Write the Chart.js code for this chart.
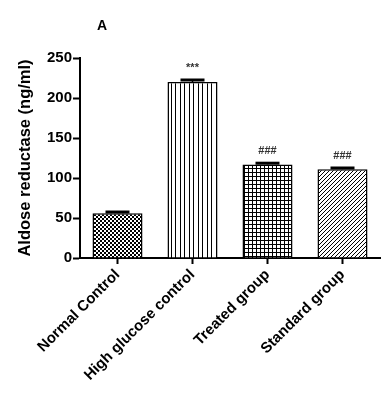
<!DOCTYPE html>
<html>
<head>
<meta charset="utf-8">
<script src="https://cdn.jsdelivr.net/npm/chart.js@4.4.0/dist/chart.umd.min.js"></script>
<style>
  body { margin: 0; background: #fff; }
</style>
</head>
<body>
<canvas id="grafico" width="390" height="399"></canvas>
<script>
const categorias = ['Normal Control', 'High glucose control', 'Treated group', 'Standard group'];
const medias = [56, 220, 117, 111];
const erros = [1.5, 2.5, 1.5, 1.5];
const marcas = ['', '***', '###', '###'];
const yMin = 0;
const yMax = 250;
const yPasso = 50;

// padroes de preenchimento das barras
function padrao(tipo) {
  const c = document.createElement('canvas');
  const g = c.getContext('2d');
  if (tipo == 'xadrez') {
    c.width = 4; c.height = 4;
    g.fillStyle = '#fff'; g.fillRect(0, 0, 4, 4);
    g.fillStyle = '#000'; g.fillRect(0, 0, 2, 2); g.fillRect(2, 2, 2, 2);
  } else if (tipo == 'vertical') {
    c.width = 9; c.height = 4;
    g.fillStyle = '#fff'; g.fillRect(0, 0, 9, 4);
    g.fillStyle = '#000'; g.fillRect(0, 0, 1, 4); g.fillRect(4, 0, 1, 4);
  } else if (tipo == 'grade') {
    c.width = 4; c.height = 4;
    g.fillStyle = '#fff'; g.fillRect(0, 0, 4, 4);
    g.fillStyle = '#000'; g.fillRect(0, 0, 1, 4); g.fillRect(0, 0, 4, 1);
  } else {
    c.width = 4; c.height = 4;
    g.fillStyle = '#fff'; g.fillRect(0, 0, 4, 4);
    g.fillStyle = '#000';
    for (let i = 0; i < 4; i++) g.fillRect(3 - i, i, 1, 1);
  }
  const ctx = document.getElementById('grafico').getContext('2d');
  return ctx.createPattern(c, 'repeat');
}

const preenchimentos = [padrao('xadrez'), padrao('vertical'), padrao('grade'), padrao('diagonal')];

const errosPlugin = {
  id: 'erros',
  afterDatasetsDraw(chart) {
    const ctx = chart.ctx;
    const y = chart.scales.y;
    const meta = chart.getDatasetMeta(0);
    ctx.save();
    for (let i = 0; i < medias.length; i++) {
      const x = meta.data[i].x;
      const yBarra = y.getPixelForValue(medias[i]);
      const yTopo = y.getPixelForValue(medias[i] + erros[i]);
      ctx.strokeStyle = '#000';
      ctx.lineWidth = 1.5;
      ctx.beginPath();
      ctx.moveTo(x, yBarra);
      ctx.lineTo(x, yTopo);
      ctx.stroke();
      ctx.lineWidth = 3;
      ctx.beginPath();
      ctx.moveTo(x - 12, yTopo);
      ctx.lineTo(x + 12, yTopo);
      ctx.stroke();
      if (marcas[i]) {
        ctx.fillStyle = '#333';
        ctx.font = 'bold 11px "Liberation Sans", Arial, sans-serif';
        ctx.textAlign = 'center';
        ctx.textBaseline = 'bottom';
        ctx.fillText(marcas[i], x, yTopo - 7);
      }
    }
    // letra do painel
    ctx.fillStyle = '#000';
    ctx.font = 'bold 14px "Liberation Sans", Arial, sans-serif';
    ctx.textAlign = 'left';
    ctx.textBaseline = 'alphabetic';
    ctx.fillText('A', chart.chartArea.left + 17, 30);
    ctx.restore();
  }
};

const fonteEixo = { family: '"Liberation Sans", Arial, sans-serif', size: 15, weight: 'bold' };

new Chart(document.getElementById('grafico'), {
  type: 'bar',
  data: {
    labels: categorias,
    datasets: [{
      data: medias,
      backgroundColor: preenchimentos,
      borderColor: '#000',
      borderWidth: 1.5,
      barPercentage: 0.667,
      categoryPercentage: 1
    }]
  },
  options: {
    responsive: false,
    animation: false,
    layout: { padding: { top: 58, right: 10, left: 0, bottom: 0 } },
    plugins: {
      legend: { display: false },
      tooltip: { enabled: false }
    },
    scales: {
      x: {
        grid: { offset: false, drawOnChartArea: false, drawTicks: true, tickLength: 6, tickColor: '#000', tickWidth: 2 },
        border: { color: '#000', width: 2 },
        ticks: { color: '#000', font: fonteEixo, minRotation: 45, maxRotation: 45, padding: 2 },
        afterFit(scale) { scale.height = 141; }
      },
      y: {
        min: yMin,
        max: yMax,
        grid: { drawOnChartArea: false, drawTicks: true, tickLength: 7, tickColor: '#000', tickWidth: 2 },
        border: { color: '#000', width: 2 },
        ticks: { color: '#000', font: fonteEixo, stepSize: yPasso, padding: 1 },
        title: {
          display: true,
          text: 'Aldose reductase (ng/ml)',
          color: '#000',
          font: { family: '"Liberation Sans", Arial, sans-serif', size: 16.5, weight: 'bold' },
          padding: { top: 16, bottom: 0 }
        },
        afterFit(scale) { scale.width = 80; }
      }
    }
  },
  plugins: [errosPlugin]
});
</script>
</body>
</html>
